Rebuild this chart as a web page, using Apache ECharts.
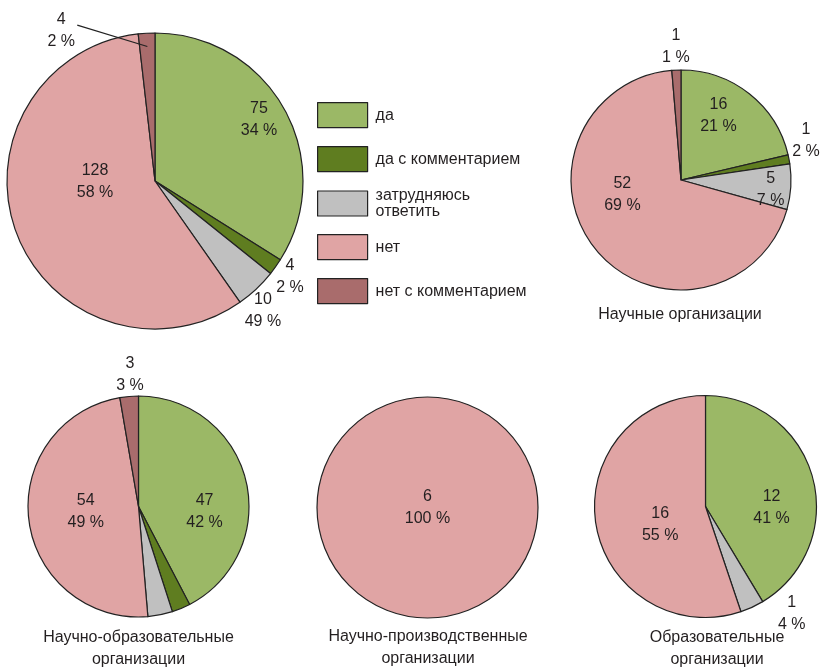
<!DOCTYPE html>
<html><head><meta charset="utf-8">
<script src="https://cdn.jsdelivr.net/npm/echarts@6/dist/echarts.min.js"></script>
<style>html,body{margin:0;padding:0;background:#fff}#c{width:823px;height:672px}</style>
</head><body><div id="c"></div>
<script>
// ---- data ----
const categories = ['да', 'да с комментарием', 'затрудняюсь ответить', 'нет', 'нет с комментарием'];
const mainValues = [75, 4, 10, 128, 4];
const mainPercents = [34, 2, 49, 58, 2];
const sciValues = [16, 1, 5, 52, 1];
const sciPercents = [21, 2, 7, 69, 1];
const sciEduValues = [47, 3, 4, 54, 3];
const sciEduPercents = [42, null, null, 49, 3];
const sciProdValues = [0, 0, 0, 6, 0];
const sciProdPercents = [null, null, null, 100, null];
const eduValues = [12, 0, 1, 16, 0];
const eduPercents = [41, null, 4, 55, null];
const pieTitles = ['', 'Научные организации', 'Научно-образовательные\nорганизации', 'Научно-производственные\nорганизации', 'Образовательные\nорганизации'];

// ---- style ----
const colors = ['#9bb866', '#5f7d20', '#c0c0c0', '#e0a4a4', '#a96c6c'];
const FONT = '"Liberation Sans", Arial, sans-serif';
const TXT = '#231f20';
const pieGeom = [
  {c: [155, 181], r: 148},
  {c: [681, 180], r: 110},
  {c: [138.5, 506.5], r: 110.5},
  {c: [427.5, 507.5], r: 110.5},
  {c: [705.5, 506.5], r: 111}
];
// label placement: [radius fraction, angle shift from slice middle (deg)]
const labelPlace = [
  [[0.815, -1.5], [1.12, 0], [1.14, 3.4], [0.405, 19.8], [1.2, -28.6]],
  [[0.68, -8.4], [1.19, -6.5], [0.82, 2.7], [0.55, 25.3], [1.21, 0.2]],
  [[0.6, 18.5], null, null, [0.48, 1.3], [1.2, 1.2]],
  [null, null, null, [0, 0], null],
  [[0.595, 16.8], null, [1.24, -14], [0.44, -12.5], null]
];
const titlePos = [null, [680, 315], [138.5, 649], [428, 648], [717, 648.5]];
const lineLabel = {series: 0, cat: 4};
const legendTops = [102, 146, 187.5, 234, 278];

const allValues = [mainValues, sciValues, sciEduValues, sciProdValues, eduValues];
const allPercents = [mainPercents, sciPercents, sciEduPercents, sciProdPercents, eduPercents];

const seriesItems = allValues.map(vals => {
  const total = vals.reduce((a, b) => a + b, 0);
  let cum = 0;
  const items = [];
  vals.forEach((v, i) => {
    if (!v) return;
    const start = cum / total * 360;
    cum += v;
    const end = cum / total * 360;
    items.push({cat: i, value: v, mid: (start + end) / 2});
  });
  return items;
});

function polar(g, deg, dist) {
  const a = deg * Math.PI / 180;
  return [g.c[0] + dist * Math.sin(a), g.c[1] - dist * Math.cos(a)];
}

const series = seriesItems.map((items, s) => {
  const g = pieGeom[s];
  return {
    type: 'pie',
    center: g.c,
    radius: g.r,
    startAngle: 90,
    clockwise: true,
    avoidLabelOverlap: false,
    silent: true,
    emphasis: {disabled: true},
    itemStyle: {borderColor: '#222', borderWidth: 1.2},
    labelLine: {show: false},
    data: items.map(it => {
      const pct = allPercents[s][it.cat];
      return {
        name: categories[it.cat],
        value: it.value,
        itemStyle: {color: colors[it.cat]},
        label: {
          show: pct != null,
          position: 'inside',
          formatter: it.value + '\n' + pct + ' %',
          fontFamily: FONT, fontSize: 16, lineHeight: 22, color: TXT
        }
      };
    }),
    labelLayout: function (p) {
      const it = items[p.dataIndex];
      const pl = labelPlace[s][it.cat];
      if (!pl) return {};
      const pos = polar(g, it.mid + pl[1], pl[0] * g.r);
      return {x: pos[0], y: pos[1], align: 'center', verticalAlign: 'middle'};
    }
  };
});

const legends = categories.map((name, i) => ({
  data: [name],
  orient: 'vertical',
  left: 317,
  top: legendTops[i],
  padding: 0,
  itemWidth: 50,
  itemHeight: 25,
  itemGap: 7,
  selectedMode: false,
  icon: 'rect',
  itemStyle: {borderColor: '#222', borderWidth: 1.2},
  formatter: n => n === 'затрудняюсь ответить' ? 'затрудняюсь\nответить' : n,
  textStyle: {fontFamily: FONT, fontSize: 16, lineHeight: 16, color: TXT, padding: [0, 0, 0, 3]}
}));

const graphics = [];
pieTitles.forEach((t, i) => {
  if (!t) return;
  graphics.push({
    type: 'text',
    x: titlePos[i][0], y: titlePos[i][1],
    style: {text: t, align: 'center', verticalAlign: 'middle', font: '16px ' + FONT, fill: TXT, lineHeight: 22}
  });
});

// leader line for the small outside label of the main pie (drawn over the slices)
(function () {
  const s = lineLabel.series;
  const g = pieGeom[s];
  const it = seriesItems[s].find(d => d.cat === lineLabel.cat);
  const pl = labelPlace[s][lineLabel.cat];
  const lp = polar(g, it.mid + pl[1], pl[0] * g.r);
  const end = polar(g, it.mid, 0.91 * g.r);
  graphics.push({
    type: 'line', z: 100,
    shape: {x1: lp[0] + 16, y1: lp[1] - 5, x2: end[0], y2: end[1]},
    style: {stroke: '#222', lineWidth: 1.2}
  });
})();

const chart = echarts.init(document.getElementById('c'), null, {renderer: 'canvas'});
chart.setOption({
  animation: false,
  backgroundColor: '#fff',
  legend: legends,
  graphic: graphics,
  series: series
});
</script>
</body></html>
